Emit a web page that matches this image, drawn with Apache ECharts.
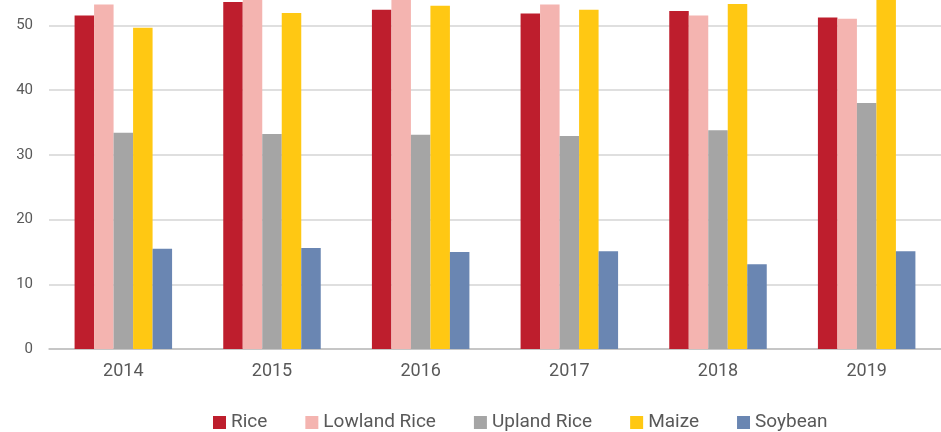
<!DOCTYPE html>
<html>
<head>
<meta charset="utf-8">
<script src="https://cdn.jsdelivr.net/npm/echarts@6/dist/echarts.min.js"></script>
<style>
html,body{margin:0;padding:0;background:#fff;}
#chart{width:941px;height:432px;}
</style>
</head>
<body>
<div id="chart"></div>
<script>
// 年份
var years = ['2014', '2015', '2016', '2017', '2018', '2019'];
var seriesNames = ['Rice', 'Lowland Rice', 'Upland Rice', 'Maize', 'Soybean'];
var rice = [51.5, 53.6, 52.4, 51.8, 52.2, 51.2];
var lowlandRice = [53.2, 54.5, 54.3, 53.2, 51.5, 51.0];
var uplandRice = [33.4, 33.2, 33.1, 32.9, 33.8, 38.0];
var maize = [49.6, 51.9, 53.0, 52.4, 53.3, 55.0];
var soybean = [15.5, 15.6, 15.0, 15.1, 13.1, 15.1];
var yTicks = [0, 10, 20, 30, 40, 50];

var colors = ['#be1e2d', '#f4b4b0', '#a5a5a5', '#ffc813', '#6a86b2'];
var allData = [rice, lowlandRice, uplandRice, maize, soybean];

var myChart = echarts.init(document.getElementById('chart'));
var series = [];
for (var i = 0; i < seriesNames.length; i++) {
	series.push({
		name: seriesNames[i],
		type: 'bar',
		data: allData[i],
		barWidth: 19.5,
		barGap: '0%',
		itemStyle: {
			color: colors[i]
		}
	});
}
var option = {
	backgroundColor: '#fff',
	animation: false,
	color: colors,
	textStyle: {
		fontFamily: 'Roboto'
	},
	legend: {
		top: 408,
		left: 208,
		itemWidth: 13,
		itemHeight: 13,
		itemGap: 38,
		icon: 'rect',
		data: seriesNames,
		textStyle: {
			color: '#595959',
			fontSize: 19
		}
	},
	grid: {
		left: 49,
		right: 0,
		top: 0,
		bottom: 83
	},
	xAxis: {
		type: 'category',
		data: years,
		axisTick: { show: false },
		axisLine: {
			lineStyle: { color: '#bfbfbf', width: 1.5 }
		},
		axisLabel: {
			color: '#595959',
			fontSize: 18,
			margin: 13
		}
	},
	yAxis: {
		type: 'value',
		min: yTicks[0],
		max: 53.9,
		interval: 10,
		axisLine: { show: false },
		axisTick: { show: false },
		axisLabel: {
			color: '#595959',
			fontSize: 15,
			margin: 16,
			showMaxLabel: false
		},
		splitLine: {
			showMaxLine: false,
			lineStyle: { color: '#d4d4d4', width: 1.5 }
		}
	},
	series: series
};
myChart.setOption(option);
</script>
</body>
</html>
